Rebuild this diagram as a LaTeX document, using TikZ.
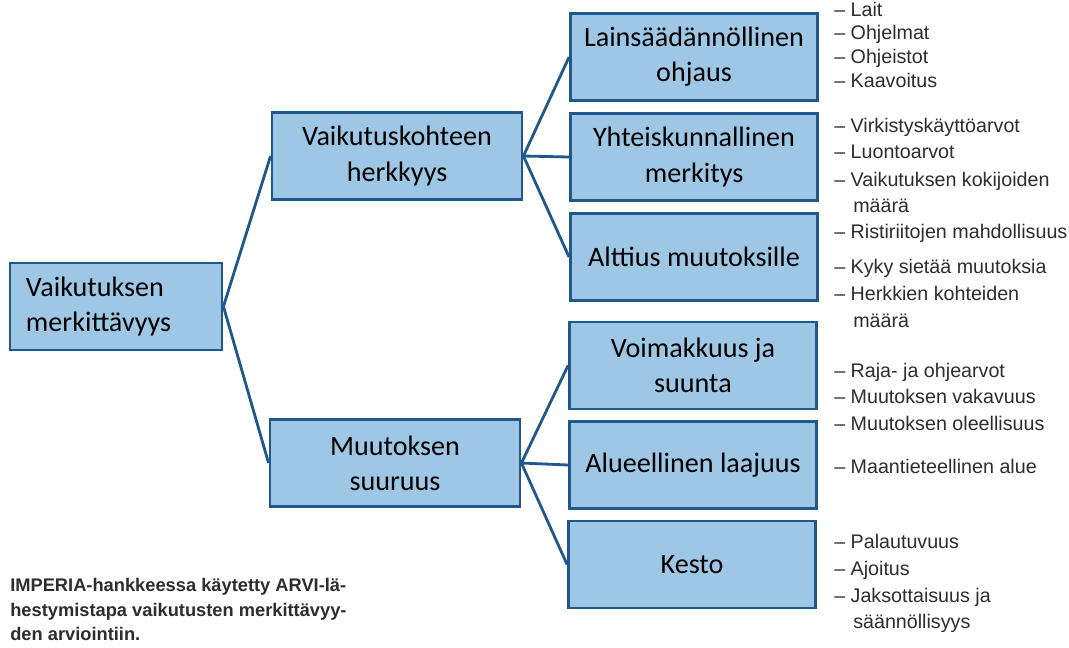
\documentclass[tikz,border=0pt]{standalone}
\usepackage{fontspec}
\setmainfont{Carlito}
\newfontfamily\listfont{Liberation Sans}
\definecolor{boxfill}{RGB}{157,199,229}
\definecolor{boxline}{RGB}{32,88,140}
\definecolor{listgray}{RGB}{45,45,45}

\begin{document}
\begin{tikzpicture}[x=0.025cm,y=-0.025cm,
    box/.style={draw=boxline, fill=boxfill, line width=2pt, minimum height=2.175cm,
        align=center, inner sep=0pt, font=\fontsize{20}{25}\selectfont},
    item/.style={anchor=base west, inner sep=0pt, text=listgray,
        font=\listfont\fontsize{14}{19}\selectfont},
    link/.style={draw=boxline, line width=2pt}]
        \useasboundingbox (0,0) rectangle (1069,647);
        \fill[white] (0,0) rectangle (1069,647);

        % main boxes
        \node[box, minimum width=5.3cm, text width=4.5cm, align=left, inner xsep=0.4cm] (root) at (116,306.5) {Vaikutuksen\\merkittävyys};
        \node[box, minimum width=6.25cm] (herk) at (397,156) {Vaikutuskohteen\\herkkyys};
        \node[box, minimum width=6.25cm] (suur) at (395,463) {Muutoksen\\suuruus};

        \node[box, minimum width=6.175cm] (lain) at (694,57) {Lainsäädännöllinen\\ohjaus};
        \node[box, minimum width=6.175cm] (yht) at (694,157) {Yhteiskunnallinen\\merkitys};
        \node[box, minimum width=6.175cm] (alt) at (694,257) {Alttius muutoksille};
        \node[box, minimum width=6.175cm] (voim) at (693,365.5) {Voimakkuus ja\\suunta};
        \node[box, minimum width=6.175cm] (alue) at (693,465) {Alueellinen laajuus};
        \node[box, minimum width=6.175cm] (kest) at (692,564.5) {Kesto};

        \draw[link] (root.east) -- (herk.west);
        \draw[link] (root.east) -- (suur.west);
        \draw[link] (herk.east) -- (lain.west);
        \draw[link] (herk.east) -- (yht.west);
        \draw[link] (herk.east) -- (alt.west);
        \draw[link] (suur.east) -- (voim.west);
        \draw[link] (suur.east) -- (alue.west);
        \draw[link] (suur.east) -- (kest.west);

        % lists
        \node[item] (t1) at (834,16) {– Lait};
        \node[item] (t2) at (834,39) {– Ohjelmat};
        \node[item] (t3) at (834,63) {– Ohjeistot};
        \node[item] (t4) at (834,87) {– Kaavoitus};
        \node[item] (t5) at (834,132) {– Virkistyskäyttöarvot};
        \node[item] (t6) at (834,158) {– Luontoarvot};
        \node[item] (t7) at (834,186) {– Vaikutuksen kokijoiden};
        \node[item] (t8) at (853,212) {määrä};
        \node[item] (t9) at (834,238) {– Ristiriitojen mahdollisuus};
        \node[item] (t10) at (834,273) {– Kyky sietää muutoksia};
        \node[item] (t11) at (834,300) {– Herkkien kohteiden};
        \node[item] (t12) at (853,327) {määrä};
        \node[item] (t13) at (834,377) {– Raja- ja ohjearvot};
        \node[item] (t14) at (834,403) {– Muutoksen vakavuus};
        \node[item] (t15) at (834,430) {– Muutoksen oleellisuus};
        \node[item] (t16) at (834,473) {– Maantieteellinen alue};
        \node[item] (t17) at (834,548) {– Palautuvuus};
        \node[item] (t18) at (834,575) {– Ajoitus};
        \node[item] (t19) at (834,602) {– Jaksottaisuus ja};
        \node[item] (t20) at (853,628) {säännöllisyys};

        % caption
        \node[anchor=north west, inner sep=0pt, align=left, text=listgray,
            font=\listfont\bfseries\fontsize{13}{17.4}\selectfont] (capt) at (10,578)
            {IMPERIA-hankkeessa käytetty ARVI-lä-\\hestymistapa vaikutusten merkittävyy-\\den arviointiin.};
\end{tikzpicture}
\end{document}
